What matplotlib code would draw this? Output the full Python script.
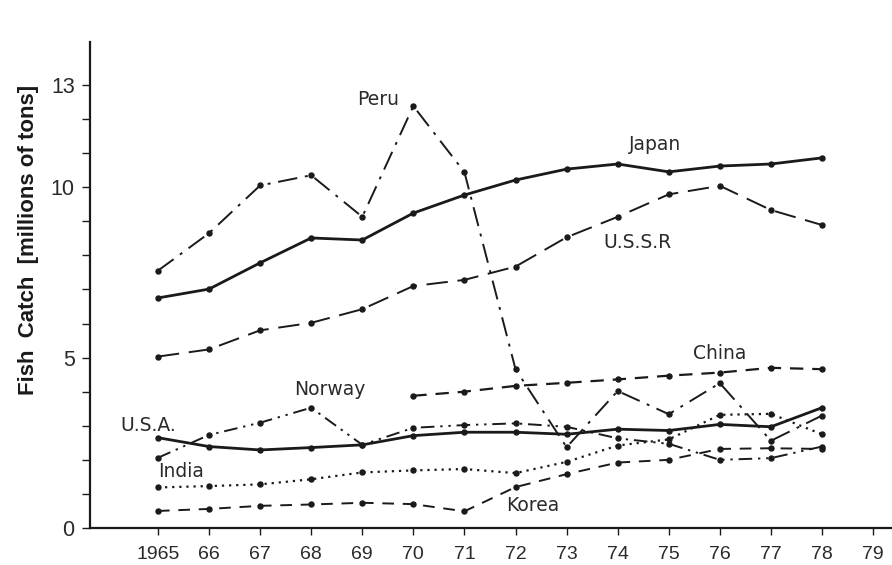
import matplotlib
matplotlib.use("Agg")
import matplotlib.pyplot as plt
import matplotlib.transforms as mtransforms

plt.rcParams['font.family'] = ['Liberation Sans', 'DejaVu Sans']

years = list(range(1965, 1979))
year_labels = ["1965", "66", "67", "68", "69", "70", "71", "72", "73", "74", "75", "76", "77", "78", "79"]

japan = [6.75, 7.01, 7.78, 8.51, 8.45, 9.24, 9.77, 10.21, 10.53, 10.68, 10.45, 10.62, 10.68, 10.86]
ussr = [5.03, 5.24, 5.80, 6.02, 6.42, 7.10, 7.28, 7.67, 8.53, 9.13, 9.79, 10.04, 9.33, 8.89]
peru = [7.55, 8.65, 10.05, 10.35, 9.13, 12.38, 10.44, 4.66, 2.37, 4.02, 3.34, 4.25, 2.56, 3.30]
china_years = list(range(1970, 1979))
china = [3.88, 4.00, 4.17, 4.26, 4.36, 4.47, 4.56, 4.70, 4.66]
norway = [2.06, 2.73, 3.09, 3.53, 2.44, 2.94, 3.02, 3.07, 2.97, 2.63, 2.47, 2.00, 2.05, 2.39]
usa = [2.65, 2.39, 2.29, 2.36, 2.44, 2.71, 2.81, 2.81, 2.75, 2.90, 2.86, 3.04, 2.97, 3.53]
india = [1.19, 1.23, 1.28, 1.43, 1.63, 1.69, 1.73, 1.61, 1.94, 2.42, 2.60, 3.32, 3.35, 2.75]
korea = [0.50, 0.56, 0.65, 0.69, 0.74, 0.70, 0.49, 1.20, 1.58, 1.92, 2.00, 2.32, 2.34, 2.32]

ink = "#1a1a1a"
txt = "#2a2a2a"

fig = plt.figure(figsize=(8.92, 5.65), dpi=100)
ax = fig.add_axes([90/892, 37/565, 802/892, 486/565])

ms = 3.6
def draw(x, y, ls, lw):
    ax.plot(x, y, color=ink, linestyle=ls, linewidth=lw, marker='o',
            markersize=ms, markerfacecolor=ink, markeredgecolor=ink)

draw(years, japan, '-', 2.0)
draw(years, ussr, (0, (11, 5)), 1.4)
draw(years, peru, (0, (10, 4, 1.5, 4)), 1.4)
draw(china_years, china, (0, (6, 4)), 1.6)
draw(years, norway, (0, (7, 3, 1.2, 3, 1.2, 3)), 1.4)
draw(years, usa, '-', 2.0)
draw(years, india, (0, (1, 2.2)), 1.6)
draw(years, korea, (0, (6, 4.5)), 1.4)

lab = dict(fontsize=13.5, color=txt, ha='center', va='center', family=['DejaVu Sans'])
ax.text(1969.31, 12.56, "Peru", **lab)
ax.text(1974.73, 11.24, "Japan", **lab)
ax.text(1974.38, 8.39, "U.S.S.R", **lab)
ax.text(1976.0, 5.13, "China", **lab)
ax.text(1968.37, 4.05, "Norway", **lab)
ax.text(1964.82, 3.02, "U.S.A.", **lab)
ax.text(1965.45, 1.67, "India", **lab)
ax.text(1972.34, 0.65, "Korea", **lab)

ax.set_xlim(1963.67, 1979.37)
ax.set_ylim(0, 14.26)

ax.set_xticks(list(range(1965, 1980)))
ax.set_xticklabels(year_labels, fontsize=14)
lbls = ax.get_xticklabels()
off = mtransforms.ScaledTranslation(-9/100, 0, fig.dpi_scale_trans)
lbls[0].set_transform(lbls[0].get_transform() + off)

ax.set_yticks(list(range(0, 14)))
ax.set_yticklabels(["0", "", "", "", "", "5", "", "", "", "", "10", "", "", "13"], fontsize=15.5)
ax.tick_params(axis='y', length=6, width=1.0, pad=5, colors=ink, labelcolor=txt)
ax.tick_params(axis='x', length=5, width=1.0, pad=8, colors=ink, labelcolor=txt)

for s in ['top', 'right']:
    ax.spines[s].set_visible(False)
for s in ['left', 'bottom']:
    ax.spines[s].set_linewidth(1.6)
    ax.spines[s].set_color(ink)

fig.text(29/892, 1 - 240/565, "Fish  Catch  [millions of tons]", rotation=90,
         ha='center', va='center', fontsize=16, fontweight='bold', color=ink)

fig.savefig("out.png", dpi=100)
